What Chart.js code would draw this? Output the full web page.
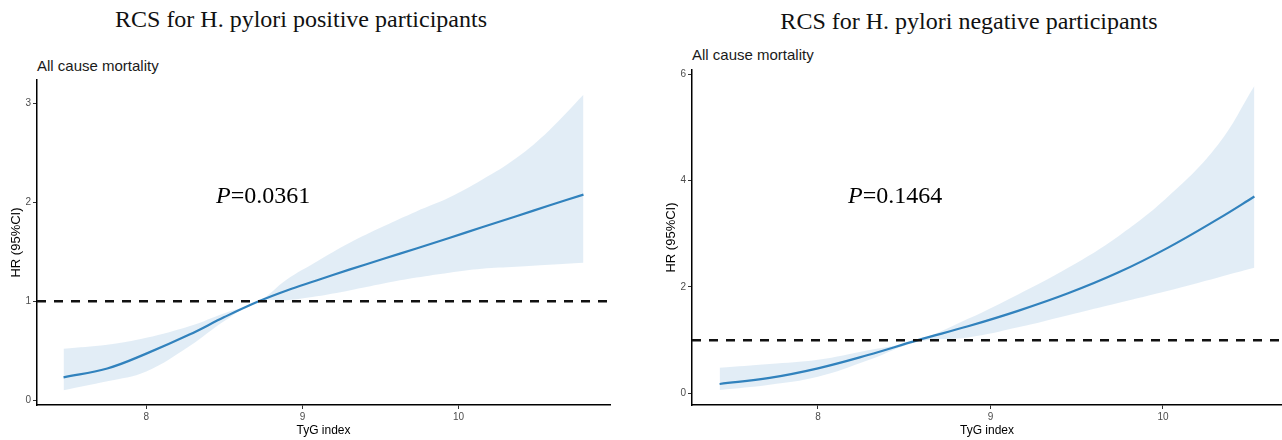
<!DOCTYPE html>
<html>
<head>
<meta charset="utf-8">
<script src="https://cdn.jsdelivr.net/npm/chart.js@4.4.1/dist/chart.umd.min.js"></script>
<style>
body { margin: 0; background: #fff; width: 1282px; height: 440px; position: relative; overflow: hidden; }
.box { position: absolute; }
.title { position: absolute; font-family: "Liberation Serif", "Times New Roman", serif; font-size: 24px; line-height: 24px; color: #111; white-space: nowrap; transform: translateX(-50%); }
.sub { position: absolute; font-family: "Liberation Sans", Arial, sans-serif; font-size: 15px; line-height: 15px; color: #1a1a1a; white-space: nowrap; }
.pval { position: absolute; font-family: "Liberation Serif", "Times New Roman", serif; font-size: 24px; line-height: 24px; color: #000; white-space: nowrap; }
</style>
</head>
<body>
<div class="title" style="left:301px; top:7px;">RCS for H. pylori positive participants</div>
<div class="title" style="left:969px; top:9px;">RCS for H. pylori negative participants</div>
<div class="sub" style="left:37px; top:58px;">All cause mortality</div>
<div class="sub" style="left:692px; top:47px;">All cause mortality</div>

<div class="box" style="left:0; top:60px; width:640px; height:380px;"><canvas id="rcs-positive"></canvas></div>
<div class="box" style="left:640px; top:60px; width:642px; height:380px;"><canvas id="rcs-negative"></canvas></div>

<div class="pval" style="left:216px; top:183px;"><i>P</i>=0.0361</div>
<div class="pval" style="left:848px; top:183px;"><i>P</i>=0.1464</div>

<script>
// H. pylori positive
const posX = [7.47, 7.75, 8.0, 8.28, 8.5, 8.72, 8.9, 9.09, 9.3, 9.52, 9.73, 9.94, 10.15, 10.37, 10.58, 10.8];
const posHR = [0.23, 0.32, 0.47, 0.665, 0.84, 1.0, 1.11, 1.21, 1.32, 1.43, 1.535, 1.64, 1.75, 1.86, 1.97, 2.08];
const posUpper = [0.52, 0.56, 0.63, 0.75, 0.88, 1.0, 1.22, 1.40, 1.59, 1.76, 1.91, 2.05, 2.23, 2.45, 2.73, 3.09];
const posLower = [0.10, 0.19, 0.29, 0.55, 0.80, 1.0, 1.01, 1.05, 1.11, 1.18, 1.24, 1.29, 1.33, 1.35, 1.37, 1.39];
const posXTicks = [8, 9, 10];
const posYTicks = [0, 1, 2, 3];
const posXLim = [7.30, 10.97];
const posYLim = [-0.05, 3.24];

// H. pylori negative
const negX = [7.43, 7.72, 8.0, 8.29, 8.58, 8.87, 9.16, 9.45, 9.74, 10.03, 10.32, 10.53];
const negHR = [0.175, 0.29, 0.47, 0.72, 1.0, 1.26, 1.55, 1.88, 2.27, 2.74, 3.28, 3.70];
const negUpper = [0.48, 0.55, 0.63, 0.81, 1.0, 1.40, 1.86, 2.36, 2.95, 3.70, 4.68, 5.78];
const negLower = [0.06, 0.16, 0.31, 0.62, 0.97, 1.05, 1.24, 1.47, 1.70, 1.93, 2.18, 2.36];
const negXTicks = [8, 9, 10];
const negYTicks = [0, 2, 4, 6];
const negXLim = [7.27, 10.69];
const negYLim = [-0.22, 6.08];

const refHR = 1;

const lineColor = '#3182bd';
const bandColor = 'rgba(49, 130, 189, 0.14)';
const sans = '"Liberation Sans", Arial, sans-serif';

const toPoints = (xs, ys) => xs.map((x, i) => ({ x: x, y: ys[i] }));

function drawRcs(canvasId, xs, hr, lower, upper, xLim, yLim, xTicks, yTicks, layout) {
    const canvas = document.getElementById(canvasId);
    if (!canvas) return;

    new Chart(canvas, {
        type: 'line',
        data: {
            datasets: [
                {
                    data: toPoints(xs, upper),
                    borderWidth: 0,
                    pointRadius: 0,
                    backgroundColor: bandColor,
                    fill: '+1',
                    tension: 0.4,
                    order: 3,
                },
                {
                    data: toPoints(xs, lower),
                    borderWidth: 0,
                    pointRadius: 0,
                    fill: false,
                    tension: 0.4,
                    order: 3,
                },
                {
                    data: toPoints(xs, hr),
                    borderColor: lineColor,
                    borderWidth: 2.2,
                    pointRadius: 0,
                    fill: false,
                    tension: 0.4,
                    order: 2,
                },
                {
                    data: [{ x: xLim[0], y: refHR }, { x: xLim[1], y: refHR }],
                    borderColor: '#111',
                    borderWidth: 2.5,
                    borderDash: [9, 8],
                    pointRadius: 0,
                    fill: false,
                    order: 1,
                },
            ],
        },
        options: {
            responsive: true,
            maintainAspectRatio: false,
            animation: false,
            events: [],
            layout: {
                padding: { top: layout.top, right: layout.right, left: 0, bottom: 0 },
            },
            plugins: {
                legend: { display: false },
                tooltip: { enabled: false },
            },
            scales: {
                x: {
                    type: 'linear',
                    min: xLim[0],
                    max: xLim[1],
                    afterBuildTicks: (s) => { s.ticks = xTicks.map((v) => ({ value: v })); },
                    afterFit: (s) => { s.height = 35; },
                    grid: { drawOnChartArea: false, tickLength: 4, tickColor: '#333', tickWidth: 1 },
                    border: { color: '#000', width: 1.5 },
                    ticks: { color: '#4d4d4d', font: { size: 10, family: sans }, padding: 2, maxRotation: 0 },
                    title: {
                        display: true,
                        text: 'TyG index',
                        color: '#000',
                        font: { size: 12, family: sans },
                        padding: { top: 0, bottom: 2 },
                    },
                },
                y: {
                    type: 'linear',
                    min: yLim[0],
                    max: yLim[1],
                    afterBuildTicks: (s) => { s.ticks = yTicks.map((v) => ({ value: v })); },
                    afterFit: (s) => { s.width = layout.yWidth; },
                    grid: { drawOnChartArea: false, tickLength: 4, tickColor: '#333', tickWidth: 1 },
                    border: { color: '#000', width: 1.5 },
                    ticks: { color: '#4d4d4d', font: { size: 10, family: sans }, padding: 2 },
                    title: {
                        display: true,
                        text: 'HR (95%CI)',
                        color: '#000',
                        font: { size: 13, family: sans },
                        padding: { top: layout.titlePad, bottom: 0 },
                    },
                },
            },
        },
    });
}

drawRcs('rcs-positive', posX, posHR, posLower, posUpper, posXLim, posYLim, posXTicks, posYTicks,
    { top: 20, right: 30, yWidth: 37, titlePad: 9 });
drawRcs('rcs-negative', negX, negHR, negLower, negUpper, negXLim, negYLim, negXTicks, negYTicks,
    { top: 10, right: 0, yWidth: 52, titlePad: 24 });
</script>
</body>
</html>
